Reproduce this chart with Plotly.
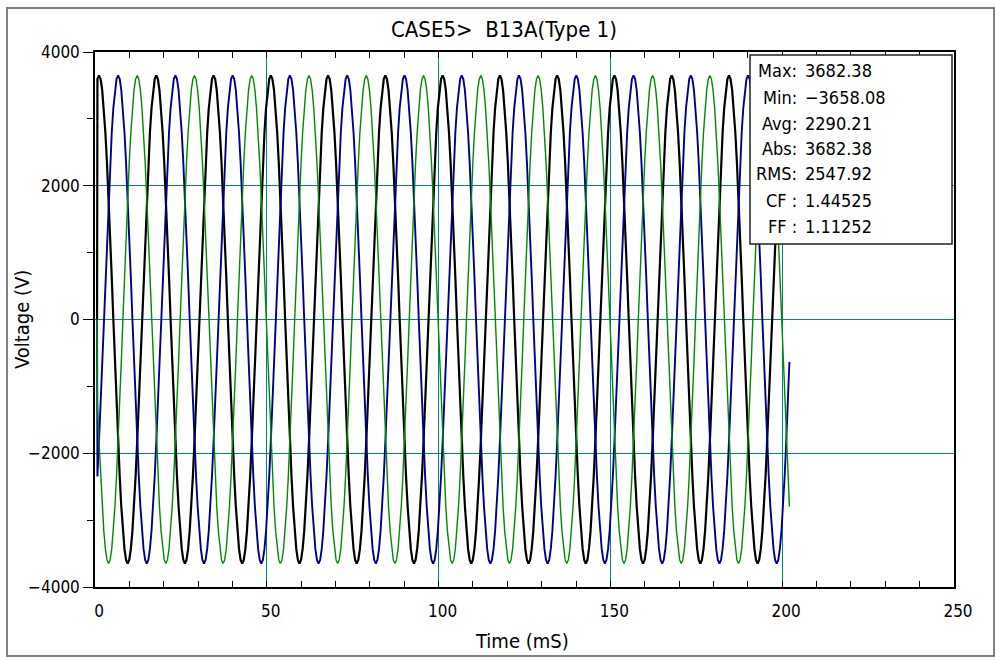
import plotly.graph_objects as go

# ---------------- data ----------------
title_text = "CASE5>  B13A(Type 1)"
x_title = "Time (mS)"
y_title = "Voltage (V)"

series_names = ["Phase A", "Phase B", "Phase C"]
series_colors = ["#000000", "#00008c", "#008a00"]
series_widths = [2.2, 1.9, 1.4]

# one 60 Hz period, every 10 degrees, starting at the peak (V)
cycle_values = [3650, 3595, 3430, 3161, 2796, 2346, 1825, 1248, 634, 0,
                -634, -1248, -1825, -2346, -2796, -3161, -3430, -3595,
                -3650, -3595, -3430, -3161, -2796, -2346, -1825, -1248,
                -634, 0, 634, 1248, 1825, 2346, 2796, 3161, 3430, 3595]
period_ms = 16.667
first_peak_ms = 1.17          # first peak of phase A
phase_lag_samples = [0, 12, 24]   # 0, 120, 240 degrees
first_sample = -1
last_sample = 434             # record ends ~202 ms
start_ms = 0.6
start_value = 0

stat_labels = ["Max:", "Min:", "Avg:", "Abs:", "RMS:", "CF :", "FF :"]
stat_values = ["3682.38", "\u22123658.08", "2290.21", "3682.38", "2547.92", "1.44525", "1.11252"]

x_ticks = [0, 50, 100, 150, 200, 250]
y_ticks = [-4000, -2000, 0, 2000, 4000]

# ---------------- layout geometry ----------------
W, H = 995, 660
L, R, T, B = 95, 41, 52, 73
PW, PH = W - L - R, H - T - B


def px(x):
    return (x - L) / PW


def py(y):
    return (H - B - y) / PH


FONT = "Liberation Sans Narrow, Arial Narrow, DejaVu Sans Condensed, sans-serif"
GRID = "#008585"

n = len(cycle_values)
step = period_ms / n
ks = list(range(first_sample, last_sample + 1))
t = [start_ms] + [first_peak_ms + k * step for k in ks]

fig = go.Figure()
for name, lag, col, w in zip(series_names, phase_lag_samples, series_colors, series_widths):
    v = [start_value] + [cycle_values[(k - lag) % n] for k in ks]
    fig.add_trace(go.Scatter(x=t, y=v, mode="lines", name=name,
                             line=dict(color=col, width=w)))

fig.update_layout(
    width=W, height=H,
    margin=dict(l=L, r=R, t=T, b=B, pad=0),
    paper_bgcolor="white", plot_bgcolor="white",
    showlegend=False,
    font=dict(family=FONT, color="black", size=17),
)

fig.update_xaxes(
    range=[0, 250], tickvals=x_ticks, ticks="inside", ticklen=6, tickcolor="black",
    tickwidth=1, minor=dict(dtick=10, ticks="inside", ticklen=6, tickcolor="black", showgrid=False),
    showgrid=True, gridcolor=GRID, gridwidth=1, zeroline=False,
    showline=True, linecolor="black", linewidth=1.5, mirror="ticks",
    tickfont=dict(family=FONT, size=17), ticklabelshift=4, ticklabelstandoff=8,
)
fig.update_yaxes(
    range=[-4000, 4000], tickvals=y_ticks, ticks="outside", ticklen=10, tickcolor="black",
    tickwidth=1, minor=dict(dtick=1000, ticks="outside", ticklen=6, tickcolor="black", showgrid=False),
    showgrid=True, gridcolor=GRID, gridwidth=1.3, zeroline=False,
    showline=True, linecolor="black", linewidth=1.5, mirror=True,
    tickfont=dict(family=FONT, size=17),
)

shapes = [
    dict(type="rect", xref="paper", yref="paper", x0=px(7), x1=px(994), y0=py(656), y1=py(8),
         line=dict(color="#808080", width=2), fillcolor="rgba(0,0,0,0)", layer="below"),
    dict(type="rect", xref="paper", yref="paper", x0=px(750), x1=px(952), y0=py(244), y1=py(55),
         line=dict(color="#222222", width=1.5), fillcolor="white", layer="above"),
]
fig.update_layout(shapes=shapes)

ann = [
    dict(text=title_text, x=px(504), y=py(30), xref="paper", yref="paper",
         xanchor="center", yanchor="middle", showarrow=False, font=dict(family=FONT, size=22)),
    dict(text=x_title, x=px(522), y=py(641), xref="paper", yref="paper",
         xanchor="center", yanchor="middle", showarrow=False, font=dict(family=FONT, size=20)),
    dict(text=y_title, x=px(22), y=py(320), xref="paper", yref="paper", textangle=-90,
         xanchor="center", yanchor="middle", showarrow=False, font=dict(family=FONT, size=20)),
]
row_y = [71, 97, 123, 148, 174, 200, 226]
for lab, val, yy in zip(stat_labels, stat_values, row_y):
    ann.append(dict(text=lab, x=px(799), y=py(yy), xref="paper", yref="paper",
                    xanchor="right", yanchor="middle", showarrow=False,
                    font=dict(family=FONT, size=18)))
    ann.append(dict(text=val, x=px(803), y=py(yy), xref="paper", yref="paper",
                    xanchor="left", yanchor="middle", showarrow=False,
                    font=dict(family=FONT, size=18)))
fig.update_layout(annotations=ann)

fig.write_html("out.html")
